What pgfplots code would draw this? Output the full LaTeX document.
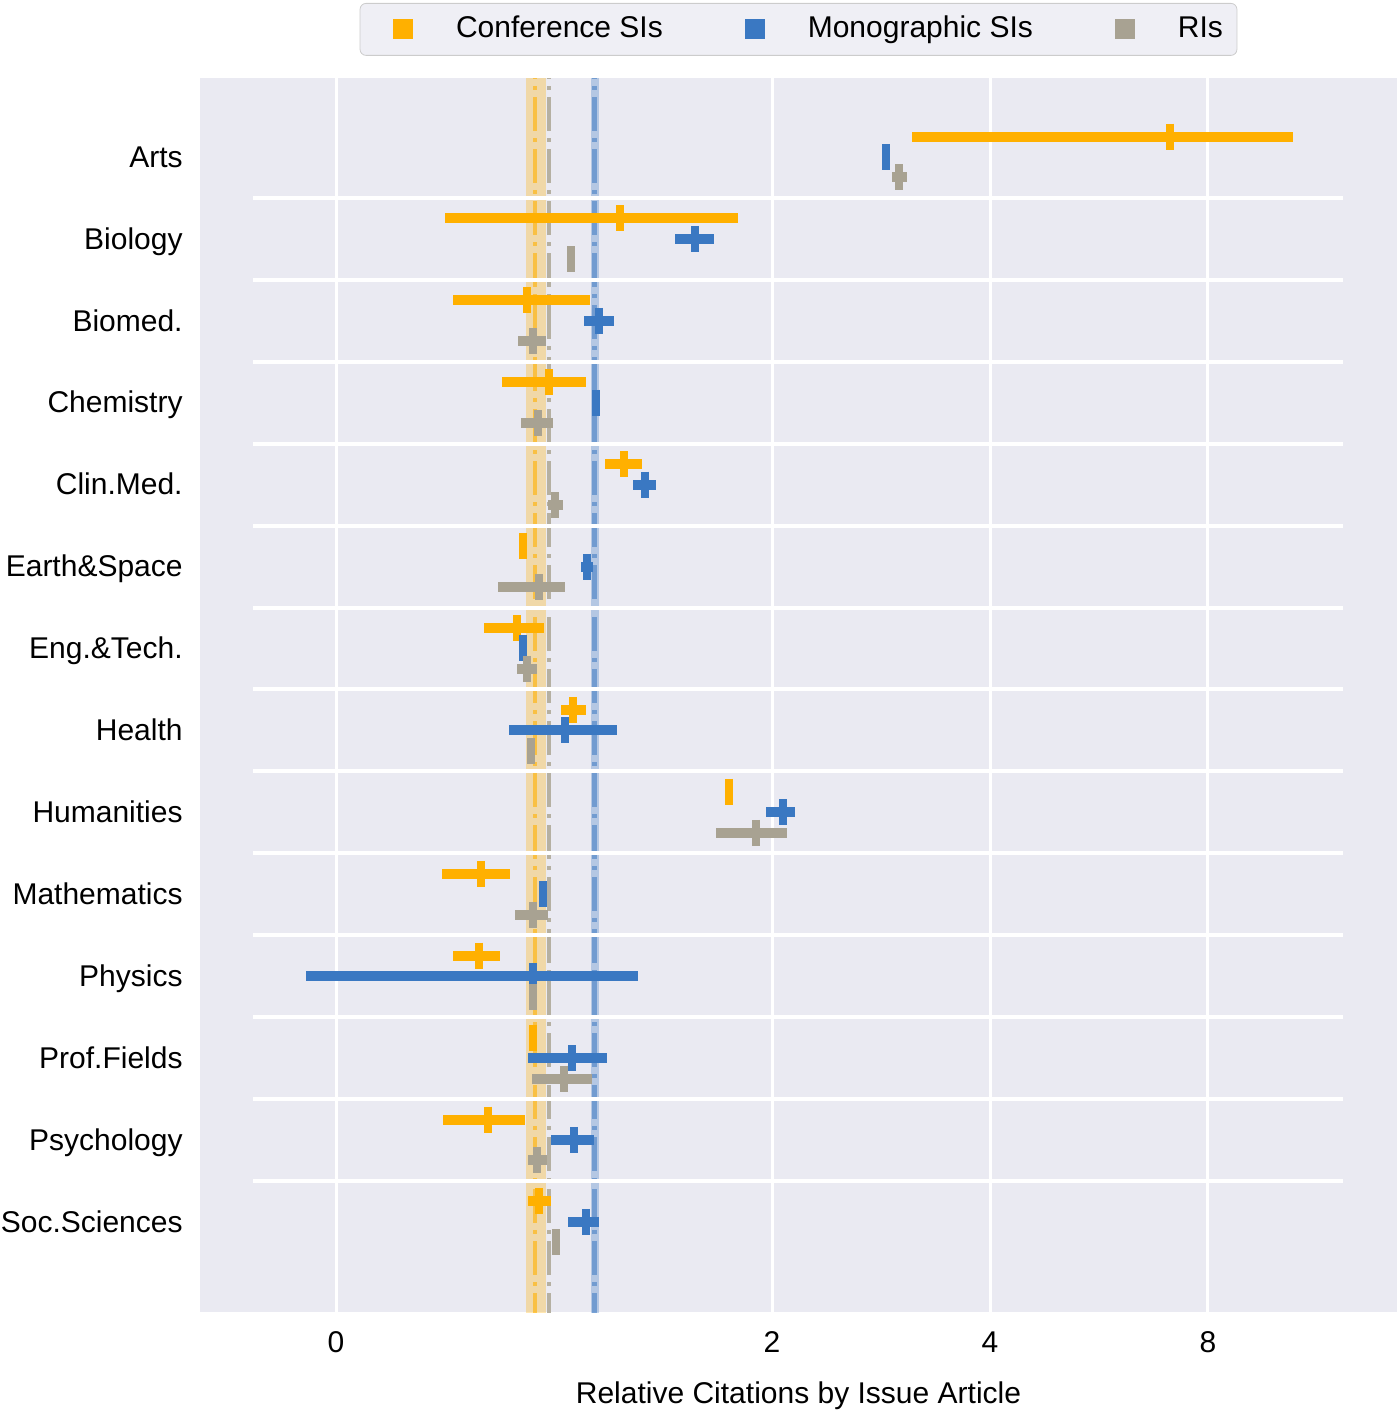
\documentclass[border=0pt]{standalone}
\usepackage{pgfplots}
\usepackage{pgfplotstable}
\pgfplotsset{compat=1.18}
\usepackage{fontspec}
\setmainfont{Liberation Sans}
\definecolor{orangeC}{HTML}{FFB000}
\definecolor{blueC}{HTML}{3A78C2}
\definecolor{greyC}{HTML}{A8A292}
\definecolor{bgC}{HTML}{EAEAF2}
\definecolor{legfill}{HTML}{EFEFF5}
\definecolor{legdraw}{HTML}{CCCCCC}

% Axis is linear for values <= 2 and log2 above (2->2, 4->3, 8->4); values are in axis units.
% columns: k = category index, lo / mid / hi of each interval
\pgfplotstableread{
k lo mid hi
0 2.642 3.826 4.390
1 0.500 1.303 1.844
2 0.537 0.876 1.165
3 0.761 0.977 1.147
4 1.234 1.321 1.404
5 0.858 0.858 0.858
6 0.679 0.830 0.954
7 1.032 1.087 1.147
8 1.803 1.803 1.803
9 0.486 0.665 0.798
10 0.537 0.656 0.752
11 0.893 0.904 0.915
12 0.491 0.697 0.867
13 0.881 0.931 0.986
}\conf
\pgfplotstableread{
k lo mid hi
0 2.523 2.523 2.523
1 1.555 1.647 1.734
2 1.138 1.206 1.275
3 1.193 1.193 1.193
4 1.362 1.417 1.468
5 1.124 1.151 1.179
6 0.858 0.858 0.858
7 0.794 1.050 1.289
8 1.972 2.050 2.106
9 0.950 0.950 0.950
10 -0.138 0.904 1.385
11 0.881 1.083 1.243
12 0.986 1.092 1.183
13 1.064 1.147 1.206
}\mono
\pgfplotstableread{
k lo mid hi
0 2.550 2.583 2.619
1 1.064 1.078 1.096
2 0.835 0.904 0.963
3 0.849 0.927 0.995
4 0.972 1.005 1.041
5 0.743 0.931 1.050
6 0.830 0.876 0.922
7 0.894 0.894 0.894
8 1.743 1.927 2.069
9 0.821 0.904 0.972
10 0.904 0.904 0.904
11 0.899 1.046 1.174
12 0.881 0.922 0.968
13 1.009 1.009 1.009
}\ris

\begin{document}
\begin{tikzpicture}
\begin{axis}[
  scale only axis,
  width=598.5pt, height=617pt,
  xmin=-0.624, xmax=4.867,
  ymin=-0.964, ymax=14.10,
  y dir=reverse,
  axis background/.style={fill=bgC},
  axis line style={draw=none},
  major tick length=0pt,
  xtick={0,2,3,4},
  xticklabels={0,2,4,8},
  ytick={0,...,13},
  yticklabels={Arts,Biology,Biomed.,Chemistry,Clin.Med.,Earth\&Space,Eng.\&Tech.,Health,Humanities,Mathematics,Physics,Prof.Fields,Psychology,Soc.Sciences},
  /pgf/number format/assume math mode=true,
  tick label style={font=\fontsize{15}{18}\selectfont},
  xticklabel style={anchor=base, inner sep=0pt, yshift=-20pt},
  yticklabel style={anchor=east, inner sep=0pt, text height=0.72em, text depth=0pt, xshift=-8.5pt, yshift=-1.5pt},
  xmajorgrids,
  grid style={white, line width=1.5pt},
  xlabel={Relative Citations by Issue Article},
  xlabel style={font=\fontsize{15}{18}\selectfont, at={(axis description cs:0.5,0)}, anchor=base, inner sep=0pt, yshift=-45.75pt},
  legend columns=3,
  legend image code/.code={\fill[sharp corners] (0pt,-5pt) rectangle (10pt,5pt); \path (-12.5pt,0pt) (28.5pt,0pt);},
  legend style={at={(axis description cs:0.5,1.0608)}, anchor=north, draw=legdraw, fill=legfill, rounded corners=3pt, inner xsep=4pt, inner ysep=3pt, font=\fontsize{15}{18}\selectfont, /tikz/column sep=0pt, /tikz/every even column/.append style={column sep=25.5pt}, nodes={inner sep=3pt, text height=11pt, text depth=3pt}},
  legend cell align=left,
]
% reference bands and lines
\addplot[fill=orangeC, fill opacity=0.3, draw=none, forget plot] coordinates {(0.872,-2) (0.963,-2) (0.963,16) (0.872,16)} -- cycle;
\addplot[orangeC, opacity=0.6, line width=2pt, dash pattern=on 17pt off 3.5pt on 2pt off 3.5pt, forget plot] coordinates {(0.913,-2) (0.913,16)};
\addplot[color=greyC!85!white, line width=2.2pt, dash pattern=on 17pt off 3.5pt on 2pt off 3.5pt, forget plot] coordinates {(0.977,-2) (0.977,16)};
\addplot[fill=blueC, fill opacity=0.3, draw=none, forget plot] coordinates {(1.170,-2) (1.206,-2) (1.206,16) (1.170,16)} -- cycle;
\addplot[blueC, opacity=0.55, line width=2.5pt, dash pattern=on 17pt off 3.5pt on 2pt off 3.5pt, forget plot] coordinates {(1.188,-2) (1.188,16)};
% category separators
\addplot[white, line width=2pt, unbounded coords=jump, forget plot] table {
x y
-0.381 0.5
4.62 0.5
nan nan
-0.381 1.5
4.62 1.5
nan nan
-0.381 2.5
4.62 2.5
nan nan
-0.381 3.5
4.62 3.5
nan nan
-0.381 4.5
4.62 4.5
nan nan
-0.381 5.5
4.62 5.5
nan nan
-0.381 6.5
4.62 6.5
nan nan
-0.381 7.5
4.62 7.5
nan nan
-0.381 8.5
4.62 8.5
nan nan
-0.381 9.5
4.62 9.5
nan nan
-0.381 10.5
4.62 10.5
nan nan
-0.381 11.5
4.62 11.5
nan nan
-0.381 12.5
4.62 12.5
};
% data
\addplot[forget plot, only marks, mark=|, mark size=6.5pt, mark options={line width=4pt, draw=orangeC},
  error bars/.cd, x dir=both, x explicit, error mark=none, error bar style={line width=5pt, draw=orangeC}]
  table[x=mid, y expr=\thisrow{k}-0.25, x error plus expr=\thisrow{hi}-\thisrow{mid}, x error minus expr=\thisrow{mid}-\thisrow{lo}] {\conf};
\addplot[forget plot, only marks, mark=|, mark size=6.5pt, mark options={line width=4pt, draw=blueC},
  error bars/.cd, x dir=both, x explicit, error mark=none, error bar style={line width=5pt, draw=blueC}]
  table[x=mid, y expr=\thisrow{k}, x error plus expr=\thisrow{hi}-\thisrow{mid}, x error minus expr=\thisrow{mid}-\thisrow{lo}] {\mono};
\addplot[forget plot, only marks, mark=|, mark size=6.5pt, mark options={line width=4pt, draw=greyC},
  error bars/.cd, x dir=both, x explicit, error mark=none, error bar style={line width=5pt, draw=greyC}]
  table[x=mid, y expr=\thisrow{k}+0.25, x error plus expr=\thisrow{hi}-\thisrow{mid}, x error minus expr=\thisrow{mid}-\thisrow{lo}] {\ris};
\addlegendimage{fill=orangeC, draw=none}
\addlegendentry{Conference SIs}
\addlegendimage{fill=blueC, draw=none}
\addlegendentry{Monographic SIs}
\addlegendimage{fill=greyC, draw=none}
\addlegendentry{RIs}
\coordinate (bbsw) at (rel axis cs:-0.16708,-0.08185);
\coordinate (bbne) at (rel axis cs:1.00251,1.06321);
\end{axis}
\pgfresetboundingbox
\useasboundingbox (bbsw) rectangle (bbne);
\end{tikzpicture}
\end{document}
